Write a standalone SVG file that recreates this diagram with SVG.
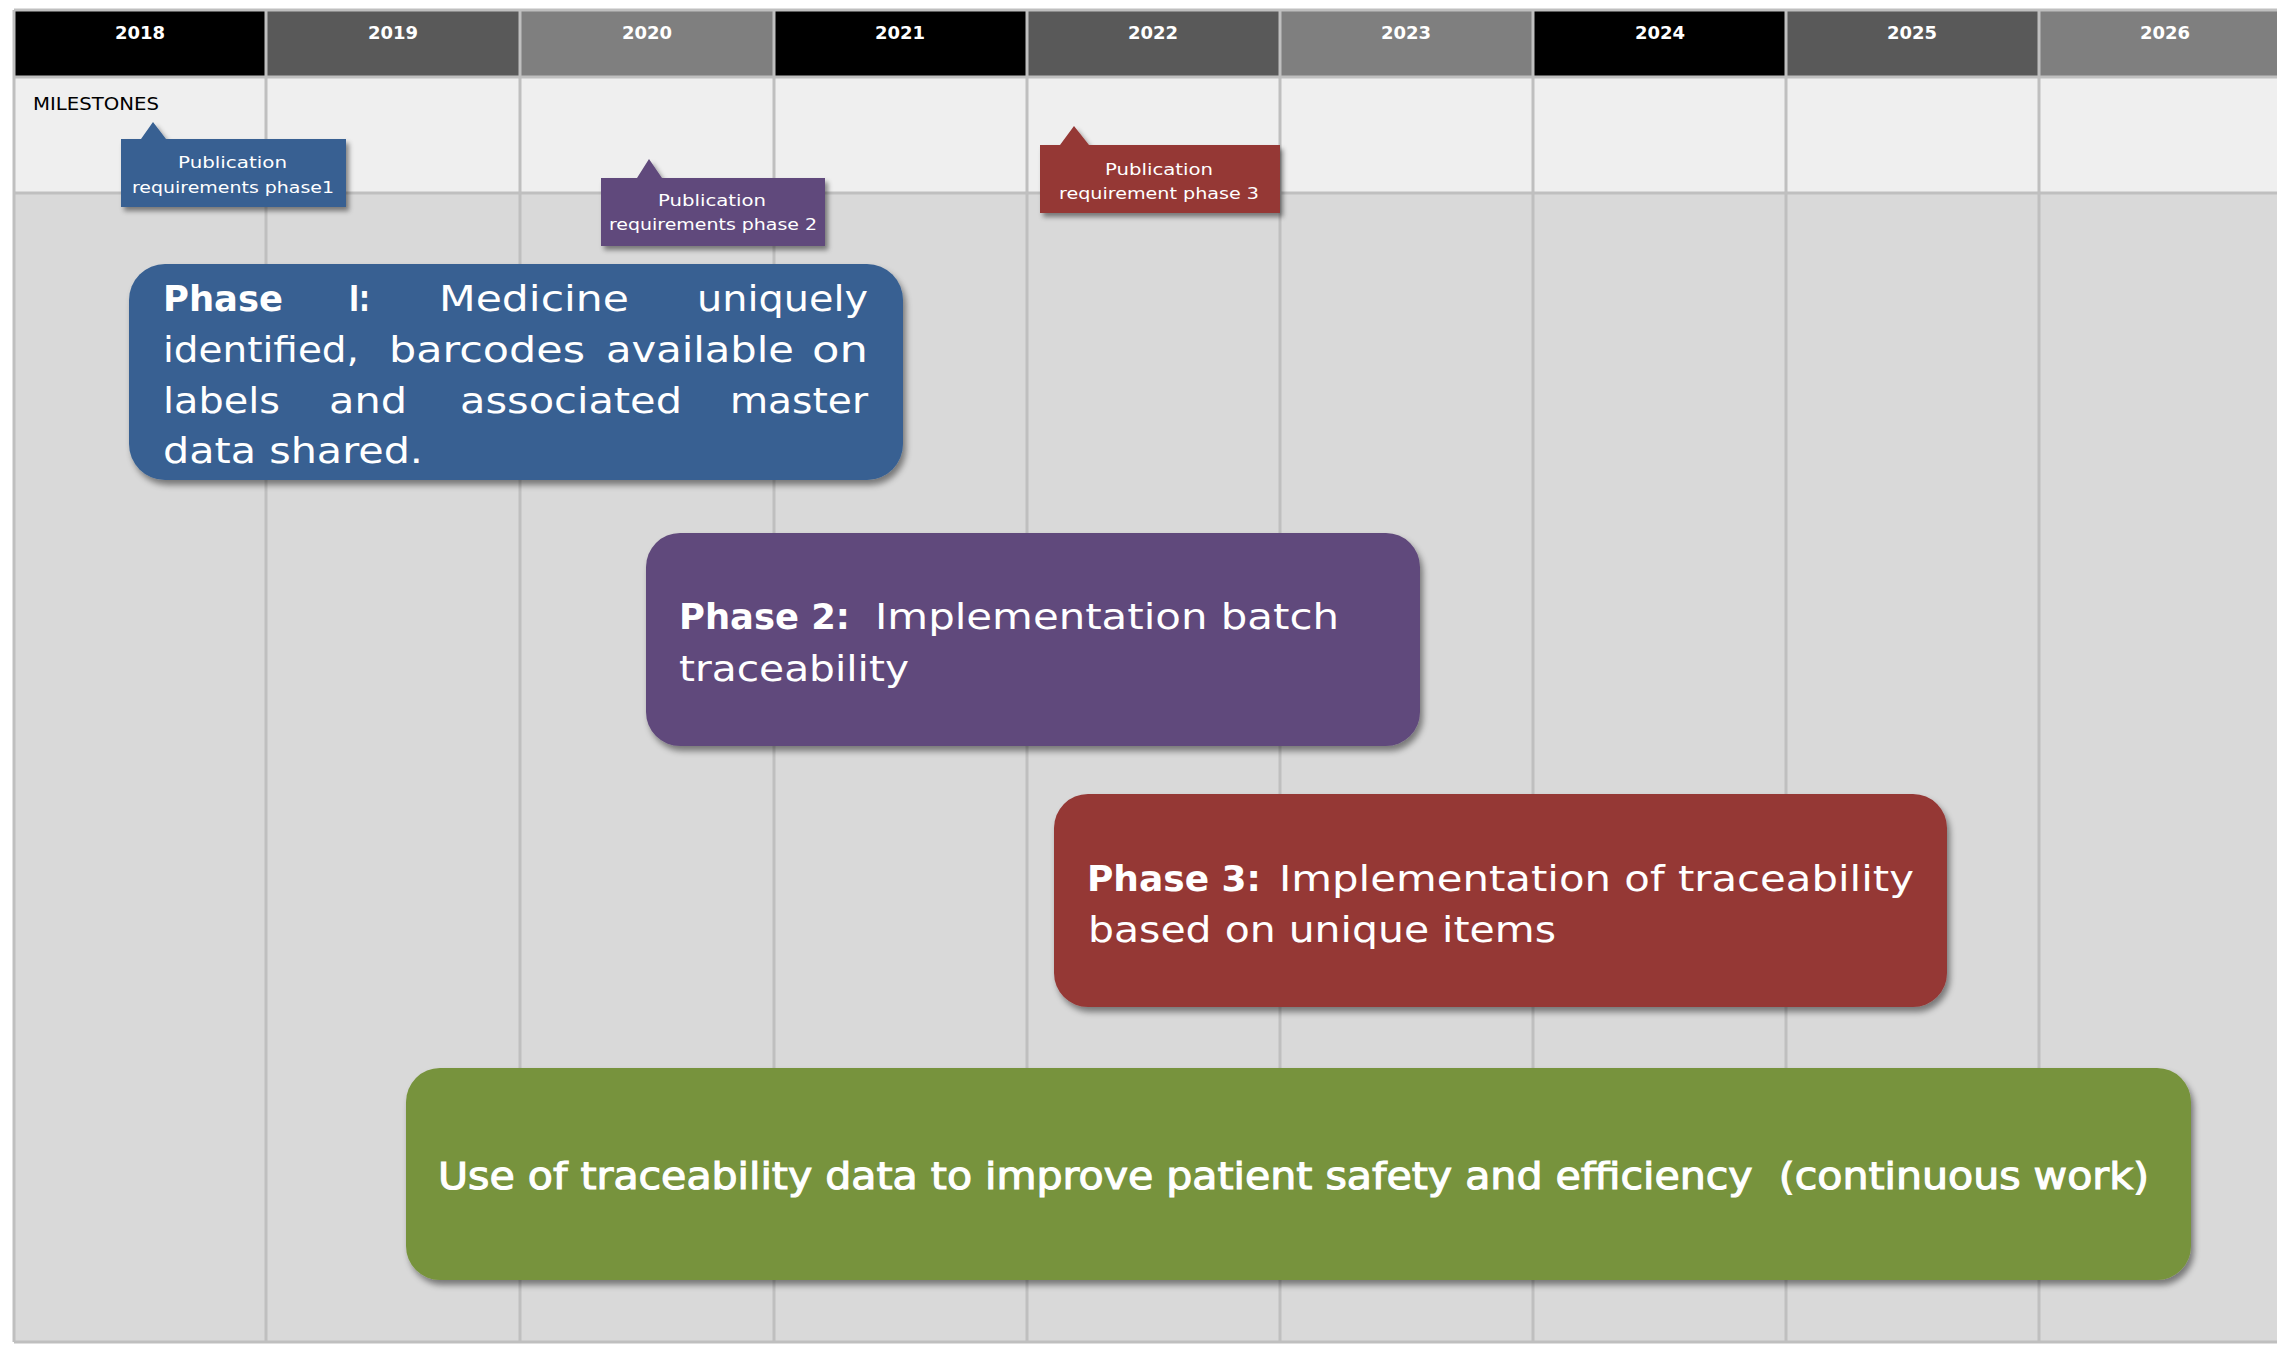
<svg xmlns="http://www.w3.org/2000/svg" width="2277" height="1345" viewBox="0 0 2277 1345">
<defs>
<style>
.yr{font-family:"DejaVu Sans","Liberation Sans",sans-serif;font-weight:bold;font-size:18px;fill:#fff;text-anchor:middle}
.ms{font-family:"DejaVu Sans","Liberation Sans",sans-serif;font-size:16.5px;fill:#fff}
.lbl{font-family:"DejaVu Sans","Liberation Sans",sans-serif;font-size:18px;fill:#000}
.ph{font-family:"DejaVu Sans","Liberation Sans",sans-serif;font-size:35px;fill:#fff}
.gr{font-family:"DejaVu Sans","Liberation Sans",sans-serif;font-size:38px;fill:#fff;stroke:#fff;stroke-width:1.1}
.b{font-weight:bold}
.gl{stroke:#bfbfbf;stroke-width:3;fill:none}
</style>
<filter id="sh" x="-5%" y="-10%" width="112%" height="130%"><feDropShadow dx="3" dy="5" stdDeviation="3" flood-color="#000" flood-opacity="0.45"/></filter>
<filter id="sh2" x="-10%" y="-20%" width="125%" height="150%"><feDropShadow dx="3" dy="4" stdDeviation="2.5" flood-color="#000" flood-opacity="0.45"/></filter>
</defs>
<rect width="2277" height="1345" fill="#fff"/>
<g id="grid">
<rect x="14" y="10" width="252" height="67" fill="#000"/>
<rect x="266" y="10" width="254" height="67" fill="#595959"/>
<rect x="520" y="10" width="254" height="67" fill="#7f7f7f"/>
<rect x="774" y="10" width="253" height="67" fill="#000"/>
<rect x="1027" y="10" width="253" height="67" fill="#595959"/>
<rect x="1280" y="10" width="253" height="67" fill="#7f7f7f"/>
<rect x="1533" y="10" width="253" height="67" fill="#000"/>
<rect x="1786" y="10" width="253" height="67" fill="#595959"/>
<rect x="2039" y="10" width="238" height="67" fill="#7f7f7f"/>
<rect x="14" y="77" width="2263" height="116" fill="#efefef"/>
<rect x="14" y="193" width="2263" height="1149" fill="#d9d9d9"/>
<path class="gl" d="M14,10H2277M14,77H2277M14,193H2277M14,1342H2277M14,10V1342M266,10V1342M520,10V1342M774,10V1342M1027,10V1342M1280,10V1342M1533,10V1342M1786,10V1342M2039,10V1342"/>
<text class="yr" x="140" y="39">2018</text>
<text class="yr" x="393" y="39">2019</text>
<text class="yr" x="647" y="39">2020</text>
<text class="yr" x="900" y="39">2021</text>
<text class="yr" x="1153" y="39">2022</text>
<text class="yr" x="1406" y="39">2023</text>
<text class="yr" x="1660" y="39">2024</text>
<text class="yr" x="1912" y="39">2025</text>
<text class="yr" x="2165" y="39">2026</text>
<text class="lbl" x="33" y="110" textLength="126" lengthAdjust="spacingAndGlyphs">MILESTONES</text>
</g>
<g id="milestone1">
<path d="M121,139H141L153,122L166,139H346V207H121Z" fill="#376092" filter="url(#sh2)"/>
<text class="ms" x="178" y="168" textLength="109" lengthAdjust="spacingAndGlyphs">Publication</text>
<text class="ms" x="132" y="193" textLength="202" lengthAdjust="spacingAndGlyphs">requirements phase1</text>
</g>
<g id="milestone2">
<path d="M601,178H637L649,159L662,178H825V246H601Z" fill="#604a7b" filter="url(#sh2)"/>
<text class="ms" x="658" y="206" textLength="108" lengthAdjust="spacingAndGlyphs">Publication</text>
<text class="ms" x="609" y="230" textLength="208" lengthAdjust="spacingAndGlyphs">requirements phase 2</text>
</g>
<g id="milestone3">
<path d="M1040,145H1060L1074,126L1089,145H1280V213H1040Z" fill="#953735" filter="url(#sh2)"/>
<text class="ms" x="1105" y="175" textLength="108" lengthAdjust="spacingAndGlyphs">Publication</text>
<text class="ms" x="1059" y="199" textLength="200" lengthAdjust="spacingAndGlyphs">requirement phase 3</text>
</g>
<g id="phase1">
<rect x="129" y="264" width="774" height="216" rx="36" fill="#376092" filter="url(#sh)"/>
<text class="ph b" x="163" y="311" textLength="120" lengthAdjust="spacingAndGlyphs">Phase</text>
<text class="ph b" x="349" y="311" textLength="21" lengthAdjust="spacingAndGlyphs">I:</text>
<text class="ph" x="439" y="311" textLength="190" lengthAdjust="spacingAndGlyphs">Medicine</text>
<text class="ph" x="697" y="311" textLength="171" lengthAdjust="spacingAndGlyphs">uniquely</text>
<text class="ph" x="163" y="362" textLength="196" lengthAdjust="spacingAndGlyphs">identified,</text>
<text class="ph" x="389" y="362" textLength="196" lengthAdjust="spacingAndGlyphs">barcodes</text>
<text class="ph" x="606" y="362" textLength="188" lengthAdjust="spacingAndGlyphs">available</text>
<text class="ph" x="812" y="362" textLength="56" lengthAdjust="spacingAndGlyphs">on</text>
<text class="ph" x="163" y="413" textLength="117" lengthAdjust="spacingAndGlyphs">labels</text>
<text class="ph" x="329" y="413" textLength="78" lengthAdjust="spacingAndGlyphs">and</text>
<text class="ph" x="460" y="413" textLength="222" lengthAdjust="spacingAndGlyphs">associated</text>
<text class="ph" x="730" y="413" textLength="138" lengthAdjust="spacingAndGlyphs">master</text>
<text class="ph" x="163" y="463" textLength="260" lengthAdjust="spacingAndGlyphs">data shared.</text>
</g>
<g id="phase2">
<rect x="646" y="533" width="774" height="213" rx="34" fill="#604a7b" filter="url(#sh)"/>
<text class="ph b" x="679" y="629" textLength="171" lengthAdjust="spacingAndGlyphs">Phase 2:</text>
<text class="ph" x="875" y="629" textLength="464" lengthAdjust="spacingAndGlyphs">Implementation batch</text>
<text class="ph" x="679" y="681" textLength="230" lengthAdjust="spacingAndGlyphs">traceability</text>
</g>
<g id="phase3">
<rect x="1054" y="794" width="893" height="213" rx="34" fill="#953735" filter="url(#sh)"/>
<text class="ph b" x="1087" y="891" textLength="174" lengthAdjust="spacingAndGlyphs">Phase 3:</text>
<text class="ph" x="1279" y="891" textLength="635" lengthAdjust="spacingAndGlyphs">Implementation of traceability</text>
<text class="ph" x="1088" y="942" textLength="468" lengthAdjust="spacingAndGlyphs">based on unique items</text>
</g>
<g id="continuous">
<rect x="406" y="1068" width="1785" height="212" rx="34" fill="#77933c" filter="url(#sh)"/>
<text class="gr" x="438" y="1189" xml:space="preserve" textLength="1711" lengthAdjust="spacingAndGlyphs">Use of traceability data to improve patient safety and efficiency  (continuous work)</text>
</g>
<g id="connectors"/>
</svg>
